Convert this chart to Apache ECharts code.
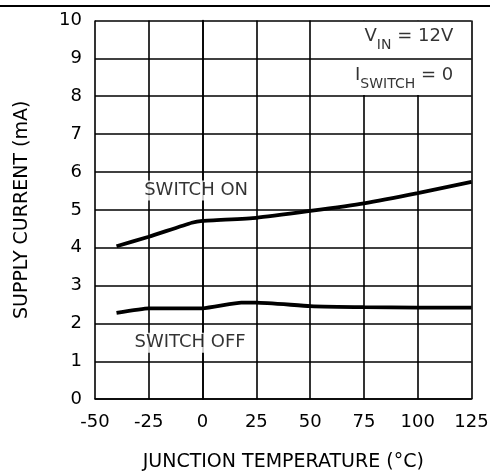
<!DOCTYPE html>
<html>
<head>
<meta charset="utf-8">
<script src="https://cdn.jsdelivr.net/npm/echarts@6/dist/echarts.min.js"></script>
<style>html,body{margin:0;padding:0;background:#fff}#c{width:490px;height:473px}</style>
</head>
<body>
<div id="c"></div>
<script>
// ---- data ----
const xTicks = [-50, -25, 0, 25, 50, 75, 100, 125];
const yTicks = [0, 1, 2, 3, 4, 5, 6, 7, 8, 9, 10];
const onTemp = [-40, -25, -5, 0, 25, 50, 75, 100, 125];
const onCurrent = [4.04, 4.29, 4.66, 4.71, 4.79, 4.97, 5.17, 5.44, 5.74];
const offTemp = [-40, -25, 0, 18, 25, 50, 75, 100, 125];
const offCurrent = [2.28, 2.40, 2.40, 2.55, 2.55, 2.46, 2.43, 2.42, 2.42];
const labelOn = 'SWITCH ON';
const labelOff = 'SWITCH OFF';
const xTitle = 'JUNCTION TEMPERATURE (°C)';
const yTitle = 'SUPPLY CURRENT (mA)';

const FONT = "'DejaVu Sans',sans-serif";
const chart = echarts.init(document.getElementById('c'), null, {renderer: 'canvas'});

function pairs(xs, ys) { return xs.map((x, i) => [x, ys[i]]); }

const option = {
  animation: false,
  backgroundColor: '#fff',
  grid: {left: 95, right: 18.5, top: 20.5, bottom: 73.8, containLabel: false, outerBoundsMode: 'none'},
  xAxis: {
    type: 'value', min: xTicks[0], max: xTicks[xTicks.length - 1], interval: 25, z: 0,
    axisLine: {show: true, onZero: false, lineStyle: {color: '#000', width: 1.6}},
    axisTick: {show: false},
    splitLine: {show: true, lineStyle: {color: '#000', width: 1.6}},
    axisLabel: {color: '#000', fontSize: 18, fontFamily: FONT, margin: 14},
    name: xTitle, nameLocation: 'middle', nameGap: 53,
    nameTextStyle: {color: '#000', fontSize: 19, fontFamily: FONT}
  },
  yAxis: {
    type: 'value', min: yTicks[0], max: yTicks[yTicks.length - 1], interval: 1, z: 2,
    axisLine: {show: true, lineStyle: {color: '#000', width: 1.6}},
    axisTick: {show: false},
    splitLine: {show: true, lineStyle: {color: '#000', width: 1.6}},
    axisLabel: {color: '#000', fontSize: 18, fontFamily: FONT, margin: 13},
    name: yTitle, nameLocation: 'middle', nameGap: 63, nameRotate: 90,
    nameTextStyle: {color: '#000', fontSize: 19, fontFamily: FONT}
  },
  graphic: [{
    type: 'line', shape: {x1: 0, y1: 6, x2: 490, y2: 6},
    style: {stroke: '#000', lineWidth: 2}
  }],
  series: [
    {
      type: 'line', data: [], z: 1, silent: true,
      markArea: {
        silent: true,
        itemStyle: {color: '#fff', opacity: 1},
        data: [[{coord: [51, 8.03]}, {coord: [124.4, 10]}]]
      }
    },
    {
      name: 'on', type: 'line', data: pairs(onTemp, onCurrent), z: 5,
      showSymbol: false, smooth: 0.15,
      lineStyle: {color: '#000', width: 3.8}
    },
    {
      name: 'off', type: 'line', data: pairs(offTemp, offCurrent), z: 5,
      showSymbol: false, smooth: 0.15,
      lineStyle: {color: '#000', width: 3.8}
    },
    {
      type: 'scatter', z: 4, symbolSize: 0, silent: true,
      data: [
        {value: [-3, 5.51], label: {formatter: labelOn}},
        {value: [-5.8, 1.49], label: {formatter: labelOff}}
      ],
      label: {
        show: true, position: 'inside', color: '#000', fontSize: 18, fontFamily: FONT,
        backgroundColor: '#fff', padding: [1, 2, 1, 2]
      }
    },
    {
      type: 'scatter', z: 4, symbolSize: 0, silent: true,
      data: [
        {value: [116.5, 9.48], label: {formatter: '{m|V}{s|IN}{m| = 12V}'}},
        {value: [116.5, 8.45], label: {formatter: '{m|I}{s|SWITCH}{m| = 0}'}}
      ],
      label: {
        show: true, position: 'inside', align: 'right', color: '#000', fontFamily: FONT,
        rich: {
          m: {fontSize: 18, fontFamily: FONT, color: '#000', lineHeight: 18, verticalAlign: 'top'},
          s: {fontSize: 14, fontFamily: FONT, color: '#000', lineHeight: 25, verticalAlign: 'bottom'}
        }
      }
    }
  ]
};
chart.setOption(option);
</script>
</body>
</html>
